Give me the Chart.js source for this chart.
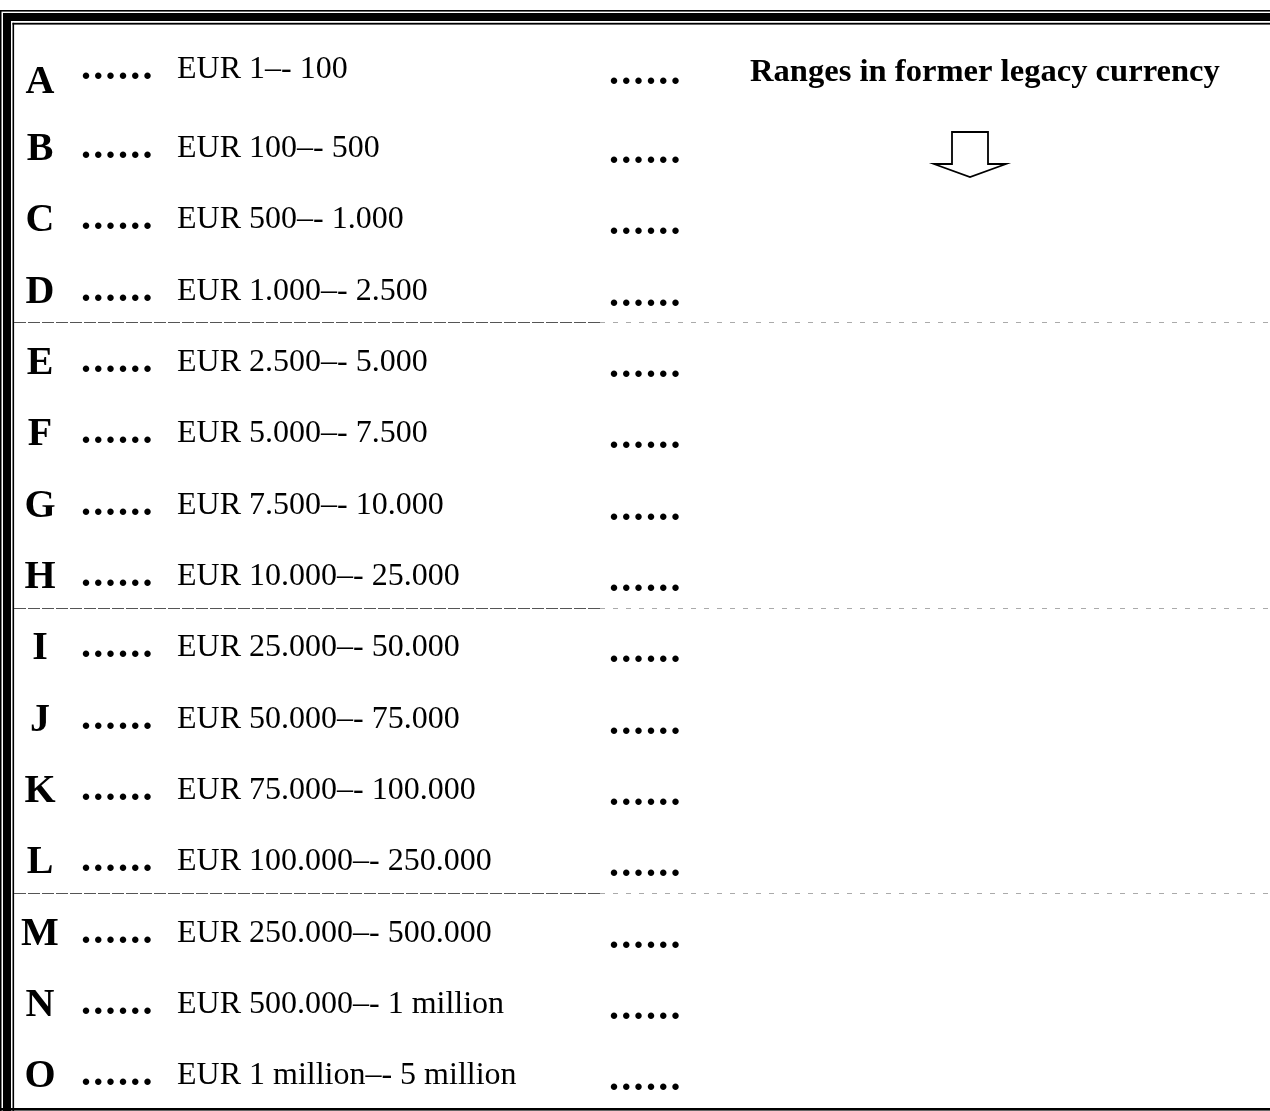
<!DOCTYPE html>
<html>
<head>
<meta charset="utf-8">
<script src="https://cdn.jsdelivr.net/npm/chart.js@4"></script>
<style>
  html, body { margin: 0; padding: 0; background: #fff; }
  canvas { display: block; }
</style>
</head>
<body>
<canvas id="ranges" width="1270" height="1111"></canvas>
<script>
// band letters and the EUR ranges they stand for
const letters = ['A', 'B', 'C', 'D', 'E', 'F', 'G', 'H', 'I', 'J', 'K', 'L', 'M', 'N', 'O'];
const rangeFrom = ['1', '100', '500', '1.000', '2.500', '5.000', '7.500', '10.000',
  '25.000', '50.000', '75.000', '100.000', '250.000', '500.000', '1 million'];
const rangeTo = ['100', '500', '1.000', '2.500', '5.000', '7.500', '10.000', '25.000',
  '50.000', '75.000', '100.000', '250.000', '500.000', '1 million', '5 million'];
const groupBreaks = [3.5, 7.5, 11.5];
const headerText = 'Ranges in former legacy currency';

const SERIF = '"Liberation Serif", "Times New Roman", serif';

// six bold periods, spread a bit wider than normal
function drawDots(ctx, x, y) {
  ctx.font = 'bold 40px ' + SERIF;
  for (let k = 0; k < 6; k++) {
    ctx.fillText('.', x + k * 12.3, y);
  }
}

// white page + double frame
const framePlugin = {
  id: 'frame',
  beforeDraw(chart) {
    const ctx = chart.ctx;
    const w = chart.width, h = chart.height;
    ctx.save();
    ctx.fillStyle = '#fff';
    ctx.fillRect(0, 0, w, h);
    ctx.fillStyle = '#000';
    // top
    ctx.fillRect(0, 10, w, 1.6);
    ctx.fillRect(3, 13, w, 8);
    ctx.fillRect(12.5, 22.8, w, 1.8);
    // left
    ctx.fillRect(0, 10, 1.5, h - 10);
    ctx.fillRect(3, 13, 8, h - 13);
    ctx.fillRect(12.5, 22.8, 1.6, h - 22.8);
    // bottom
    ctx.fillRect(0, 1108, w, 2.6);
    ctx.restore();
  }
};

// rows: letter, dots, range text, dots
const rowsPlugin = {
  id: 'rows',
  afterDatasetsDraw(chart) {
    const ctx = chart.ctx;
    const y = chart.scales.y;
    const left = chart.chartArea.left;
    ctx.save();

    // dashed group separators
    groupBreaks.forEach(b => {
      const py = Math.round(y.getPixelForValue(b)) - 1.5;
      ctx.lineWidth = 1;
      ctx.strokeStyle = '#555';
      ctx.setLineDash([12, 2]);
      ctx.beginPath();
      ctx.moveTo(left + 14, py);
      ctx.lineTo(left + 600, py);
      ctx.stroke();
      ctx.strokeStyle = '#aaa';
      ctx.setLineDash([5, 8]);
      ctx.beginPath();
      ctx.moveTo(left + 600, py);
      ctx.lineTo(chart.width, py);
      ctx.stroke();
    });
    ctx.setLineDash([]);

    ctx.fillStyle = '#000';
    ctx.textBaseline = 'alphabetic';
    letters.forEach((letter, i) => {
      const py = y.getPixelForValue(i);
      const lift = i === 0 ? 8 : 0;

      ctx.font = 'bold 40px ' + SERIF;
      ctx.textAlign = 'center';
      ctx.fillText(letter, left + 40, py + 14 + (i === 0 ? 4 : 0));

      ctx.textAlign = 'left';
      drawDots(ctx, left + 81, py + 12 - lift);
      drawDots(ctx, left + 609, py + 17 - lift);

      ctx.font = '32px ' + SERIF;
      ctx.fillText('EUR ' + rangeFrom[i] + '\u2013- ' + rangeTo[i], left + 177, py + 11 - lift);
    });

    // header on the right
    const hy = y.getPixelForValue(0);
    ctx.font = 'bold 32.6px ' + SERIF;
    ctx.textAlign = 'left';
    ctx.fillText(headerText, left + 750, hy + 6);

    // outlined down arrow
    ctx.lineWidth = 1.8;
    ctx.strokeStyle = '#000';
    ctx.beginPath();
    ctx.moveTo(952, 132);
    ctx.lineTo(952, 164);
    ctx.lineTo(934, 164);
    ctx.lineTo(970, 177);
    ctx.lineTo(1006, 164);
    ctx.lineTo(988, 164);
    ctx.lineTo(988, 132);
    ctx.closePath();
    ctx.stroke();

    ctx.restore();
  }
};

new Chart(document.getElementById('ranges'), {
  type: 'scatter',
  data: {
    datasets: [
      {
        label: 'Ranges',
        data: letters.map((l, i) => ({ x: 0, y: i })),
        pointRadius: 0,
        showLine: false,
      },
    ],
  },
  options: {
    responsive: false,
    animation: false,
    devicePixelRatio: 1,
    layout: { padding: { top: 39, bottom: 2, left: 0, right: 0 } },
    plugins: {
      legend: { display: false },
      tooltip: { enabled: false },
      title: { display: false },
    },
    scales: {
      x: { type: 'linear', display: false, min: 0, max: 1 },
      y: { type: 'linear', display: false, min: -0.5, max: 14.5, reverse: true },
    },
  },
  plugins: [framePlugin, rowsPlugin],
});
</script>
</body>
</html>
